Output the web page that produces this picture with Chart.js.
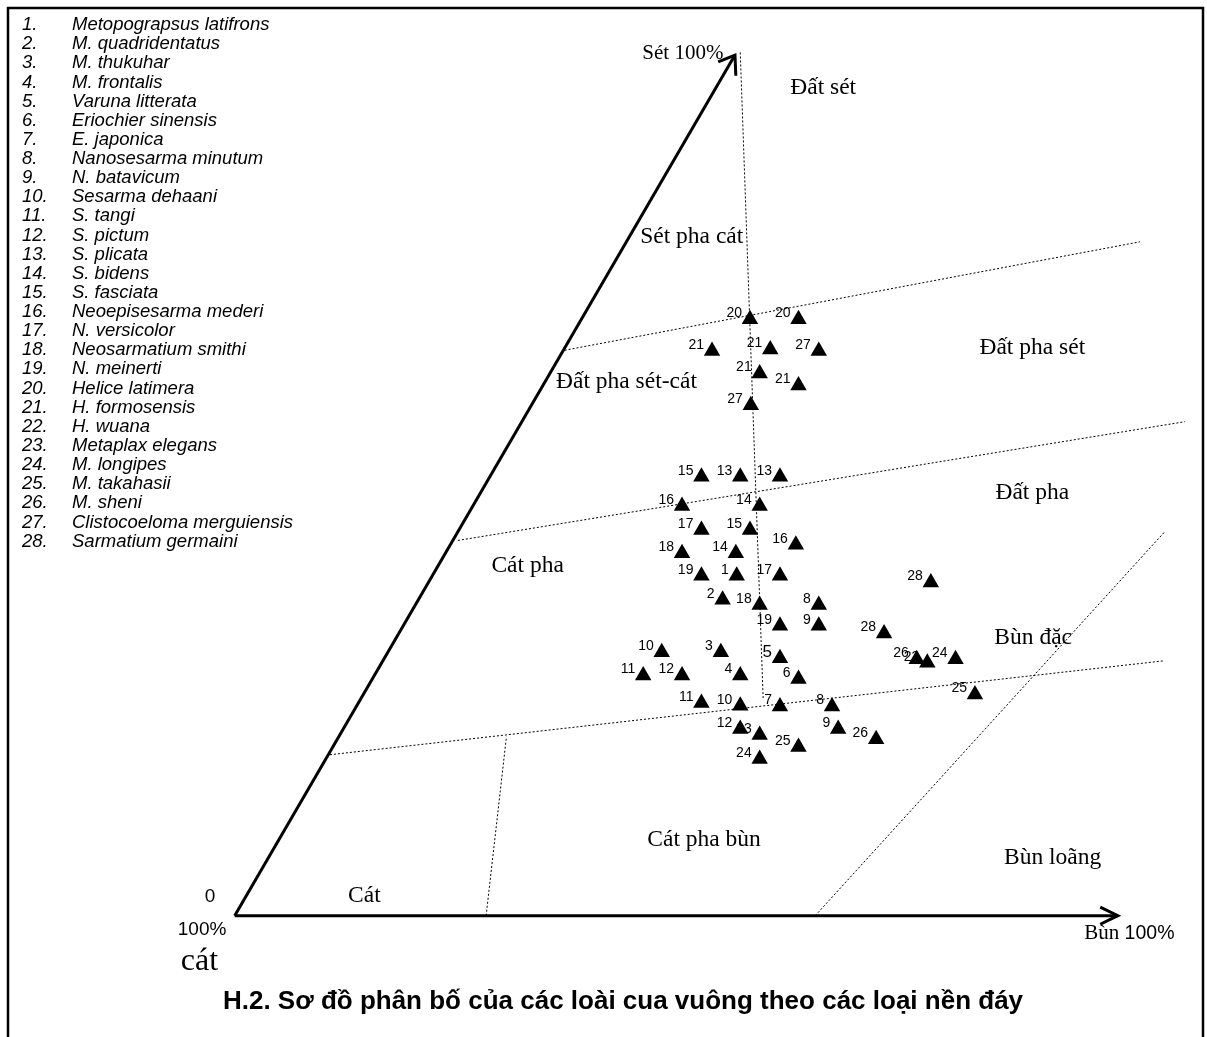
<!DOCTYPE html>
<html>
<head>
<meta charset="utf-8">
<script src="https://cdn.jsdelivr.net/npm/chart.js@4/dist/chart.umd.min.js"></script>
<style>
  html, body { margin: 0; padding: 0; background: #fff; }
  canvas { display: block; }
</style>
</head>
<body>
<canvas id="chartCanvas" width="1207" height="1037"></canvas>
<script>
// Diagram units: x = % along the mud (Bùn) axis, y = % height of the clay (Sét) axis
const speciesNames = [
  'Metopograpsus latifrons', 'M. quadridentatus', 'M. thukuhar', 'M. frontalis',
  'Varuna litterata', 'Eriochier sinensis', 'E. japonica', 'Nanosesarma minutum',
  'N. batavicum', 'Sesarma dehaani', 'S. tangi', 'S. pictum', 'S. plicata',
  'S. bidens', 'S. fasciata', 'Neoepisesarma mederi', 'N. versicolor',
  'Neosarmatium smithi', 'N. meinerti', 'Helice latimera', 'H. formosensis',
  'H. wuana', 'Metaplax elegans', 'M. longipes', 'M. takahasii', 'M. sheni',
  'Clistocoeloma merguiensis', 'Sarmatium germaini'
];

// one entry per triangle in the plot
const pointLabels = ['20','20','21','21','27','21','21','27',
  '15','13','13','16','14','17','15','16','18','14','19','1','17',
  '2','18','8','19','9','10','3','5','6','11','12','4',
  '11','10','7','8','12','23','9','26','25','24',
  '28','28','26','23','24','25'];
const pointX = [58.4, 63.9, 54.1, 60.7, 66.2, 59.5, 63.9, 58.5,
  52.9, 57.3, 61.8, 50.7, 59.5, 52.9, 58.4, 63.6, 50.7, 56.8, 52.9, 56.9, 61.8,
  55.3, 59.5, 66.2, 61.8, 66.2, 48.4, 55.1, 61.8, 63.9, 46.3, 50.7, 57.3,
  52.9, 57.3, 61.8, 67.7, 57.3, 59.5, 68.4, 72.7, 63.9, 59.5,
  78.9, 73.6, 77.3, 78.5, 81.7, 83.9];
const pointY = [69.3, 69.3, 65.6, 65.8, 65.6, 63.0, 61.6, 59.3,
  51.0, 51.0, 51.0, 47.6, 47.6, 44.8, 44.8, 43.1, 42.1, 42.1, 39.5, 39.5, 39.5,
  36.7, 36.1, 36.1, 33.7, 33.7, 30.6, 30.6, 29.9, 27.5, 27.9, 27.9, 27.9,
  24.7, 24.4, 24.3, 24.3, 21.7, 21.0, 21.7, 20.5, 19.6, 18.2,
  38.7, 32.8, 29.8, 29.4, 29.8, 25.7];

// dotted boundaries between soil types: [x1, y1, x2, y2]
const boundaries = [
  [57.3, 100.3, 59.9, 25.1],
  [37.4, 65.7, 102.6, 78.3],
  [25.3, 43.6, 107.7, 57.4],
  [10.8, 18.7, 105.2, 29.6],
  [65.8, 0, 105.4, 44.6],
  [28.5, 0, 30.8, 20.8]
];

// soil type names and their centres
const zoneNames = ['Đất sét', 'Sét pha cát', 'Đất pha sét', 'Đất pha sét-cát', 'Đất pha',
  'Cát pha', 'Bùn đặc', 'Cát pha bùn', 'Bùn loãng', 'Cát'];
const zoneX = [66.7, 51.8, 90.4, 44.4, 90.4, 33.2, 90.5, 53.2, 92.7, 14.7];
const zoneY = [96.2, 78.9, 66.0, 62.0, 49.1, 40.7, 32.3, 8.8, 6.7, 2.3];

// axes (with arrow heads)
const mudAxis = [[0, 0], [100.1, 0]];
const mudArrow = [[98.1, 1.0], [100.1, 0], [98.1, -1.0]];
const clayAxis = [[0, 0], [56.7, 100]];
const clayArrow = [[54.8, 99.2], [56.7, 100], [56.8, 97.6]];

const titleText = 'H.2. Sơ đồ phân bố của các loài cua vuông theo các loại nền đáy';

const SERIF = '"Liberation Serif", "Times New Roman", serif';
const SANS = '"Liberation Sans", Arial, sans-serif';

const toXY = arr => arr.map(p => ({ x: p[0], y: p[1] }));

const datasets = [];
// points first so they are drawn on top
datasets.push({
  label: 'species',
  data: pointX.map((x, i) => ({ x, y: pointY[i] })),
  pointStyle: 'triangle',
  pointRadius: 9.5,
  pointBackgroundColor: '#000',
  pointBorderColor: '#000',
  pointBorderWidth: 0,
  showLine: false
});
for (const b of boundaries) {
  datasets.push({
    data: [{ x: b[0], y: b[1] }, { x: b[2], y: b[3] }],
    showLine: true, borderColor: '#000', borderWidth: 1, borderDash: [2, 2],
    pointRadius: 0
  });
}
for (const ax of [mudAxis, mudArrow, clayAxis, clayArrow]) {
  datasets.push({
    data: toXY(ax),
    showLine: true, borderColor: '#000', borderWidth: 3,
    borderCapStyle: 'butt', borderJoinStyle: 'miter',
    pointRadius: 0
  });
}

function txt(ctx, s, x, y, font, align, base) {
  ctx.font = font;
  ctx.textAlign = align || 'center';
  ctx.textBaseline = base || 'middle';
  ctx.fillText(s, x, y);
}

const decorPlugin = {
  id: 'decor',
  beforeDatasetsDraw(chart) {
    // triangle numbers go underneath the triangles
    const { ctx, scales: { x, y } } = chart;
    ctx.save();
    ctx.fillStyle = '#000';
    pointLabels.forEach((lab, i) => {
      const px = x.getPixelForValue(pointX[i]);
      const py = y.getPixelForValue(pointY[i]);
      const size = lab === '5' ? 17 : 14;
      txt(ctx, lab, px - 8, py - 6, size + 'px ' + SANS, 'right', 'middle');
    });
    ctx.restore();
  },
  afterDatasetsDraw(chart) {
    const { ctx, scales: { x, y } } = chart;
    ctx.save();
    ctx.fillStyle = '#000';

    // frame
    ctx.strokeStyle = '#000';
    ctx.lineWidth = 2.5;
    ctx.strokeRect(8, 8, 1195, 1045);

    // zone names
    zoneNames.forEach((z, i) => {
      txt(ctx, z, x.getPixelForValue(zoneX[i]), y.getPixelForValue(zoneY[i]), '23.5px ' + SERIF);
    });

    // axis end labels
    txt(ctx, 'Sét 100%', x.getPixelForValue(50.8), y.getPixelForValue(100.2), '21px ' + SERIF);
    txt(ctx, '0', x.getPixelForValue(-2.8), y.getPixelForValue(2.2), '19px ' + SANS);
    txt(ctx, '100%', x.getPixelForValue(-3.7), y.getPixelForValue(-1.6), '19px ' + SANS);
    txt(ctx, 'cát', x.getPixelForValue(-4.0), y.getPixelForValue(-5.3), '32px ' + SERIF);
    const bx = x.getPixelForValue(96.3), by = y.getPixelForValue(-2.1);
    ctx.font = '21px ' + SERIF;
    const w1 = ctx.measureText('Bùn ').width;
    txt(ctx, 'Bùn ', bx, by, '21px ' + SERIF, 'left');
    txt(ctx, '100%', bx + w1, by, '19.5px ' + SANS, 'left');

    // species legend
    speciesNames.forEach((n, i) => {
      const ly = 25 + i * 19.13;
      txt(ctx, (i + 1) + '.', 22, ly, 'italic 18.5px ' + SANS, 'left');
      txt(ctx, n, 72, ly, 'italic 18.5px ' + SANS, 'left');
    });

    // caption
    txt(ctx, titleText, 623, 1002, 'bold 26px ' + SANS);
    ctx.restore();
  }
};

const chart = new Chart(document.getElementById('chartCanvas'), {
  type: 'scatter',
  data: { datasets },
  options: {
    responsive: false,
    animation: false,
    events: [],
    layout: { padding: 0, autoPadding: false },
    plugins: { legend: { display: false }, tooltip: { enabled: false } },
    scales: {
      x: { type: 'linear', min: -26.6, max: 110.2, display: false },
      y: { type: 'linear', min: -14.1, max: 106.4, display: false }
    }
  },
  plugins: [decorPlugin]
});
</script>
</body>
</html>
